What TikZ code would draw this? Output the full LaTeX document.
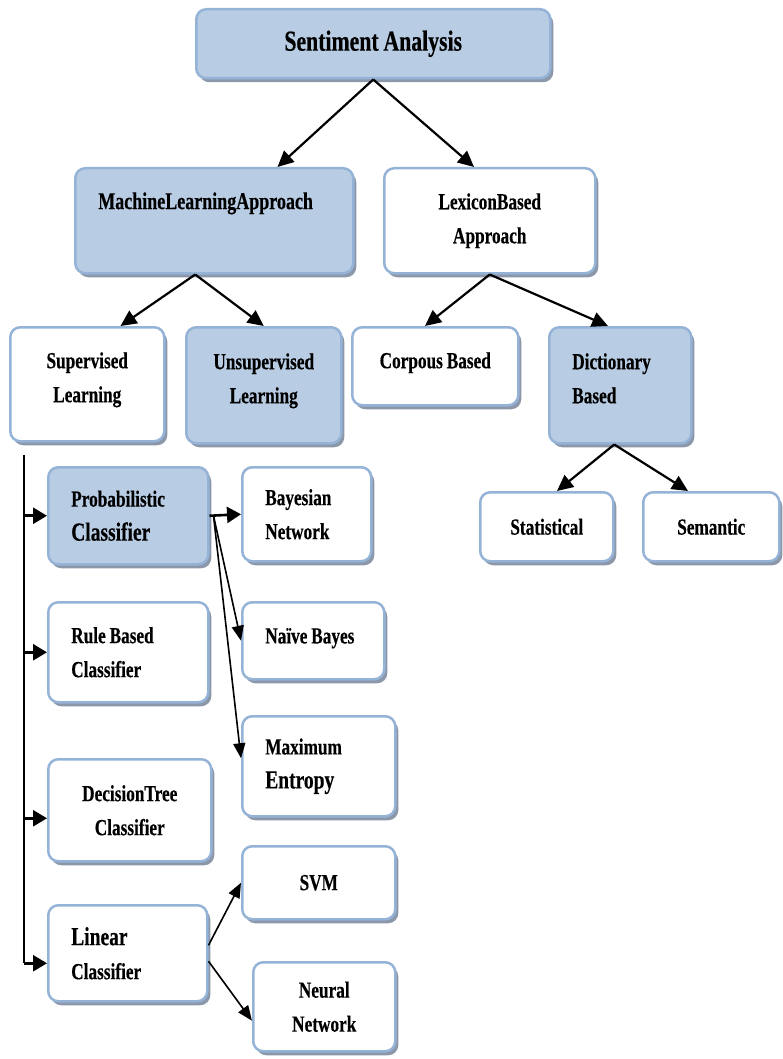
\documentclass[tikz,border=0pt]{standalone}
\usepackage{fontspec}
\setmainfont[FakeStretch=0.75,WordSpace=0.9,BoldFeatures={FakeBold=0.4}]{Liberation Serif}
\usepackage{tikz}
\usepackage{xcolor}
\usetikzlibrary{arrows.meta,shadows}

\definecolor{boxblue}{RGB}{184,204,228}
\definecolor{boxline}{RGB}{149,179,215}
\definecolor{shade}{RGB}{140,152,170}

\tikzset{
  box/.style={draw=boxline, line width=2.5pt, rounded corners=10pt, anchor=north west,
    inner xsep=23pt, inner ysep=0pt, font=\fontsize{23}{34}\selectfont\bfseries,
    drop shadow={shadow xshift=3pt, shadow yshift=-4pt, fill=shade, opacity=1}},
  bluebox/.style={box, fill=boxblue},
  whitebox/.style={box, fill=white},
  tree/.style={line width=2.2pt, -{Triangle[length=16pt,width=15pt]}},
  side/.style={line width=2.6pt, -{Triangle[length=14pt,width=16pt]}},
  fan/.style={line width=1.6pt, -{Triangle[length=15pt,width=12pt]}},
}

\begin{document}
\begin{tikzpicture}[x=1pt,y=-1pt]
\useasboundingbox (0,0) rectangle (783,1059);
% top levels
\node[bluebox, minimum width=354pt, minimum height=69pt, align=center, font=\fontsize{29}{34}\selectfont\bfseries] (sa) at (195,8) {Sentiment Analysis};
\node[bluebox, minimum width=278pt, minimum height=105pt, align=flush left, text width=232pt, text depth=40pt, font=\fontsize{24}{34}\selectfont\bfseries] (mla) at (74,167) {MachineLearningApproach};
\node[whitebox, minimum width=211pt, minimum height=105pt, align=center] (lex) at (383,167) {LexiconBased\\Approach};
\node[whitebox, minimum width=154pt, minimum height=114pt, align=center, text depth=14pt] (sup) at (9,326) {Supervised\\Learning};
\node[bluebox, minimum width=155pt, minimum height=116pt, align=center, text depth=14pt] (unsup) at (185,326) {Unsupervised\\Learning};
\node[whitebox, minimum width=166pt, minimum height=78pt, align=center, text depth=12pt] (corp) at (351,326) {Corpous Based};
\node[bluebox, minimum width=142pt, minimum height=116pt, align=flush left, text width=96pt, text depth=48pt] (dict) at (548,326) {Dictionary\\Based};
\node[whitebox, minimum width=133pt, minimum height=69pt, align=center] (stat) at (479,491) {Statistical};
\node[whitebox, minimum width=136pt, minimum height=69pt, align=center] (sem) at (642,491) {Semantic};
% supervised branch
\node[bluebox, minimum width=160pt, minimum height=97pt, align=flush left, text width=114pt] (prob) at (47,466) {Probabilistic\\{\fontsize{26}{34}\selectfont Classifier}};
\node[whitebox, minimum width=129pt, minimum height=94pt, align=flush left, text width=83pt] (bay) at (241,466) {Bayesian\\Network};
\node[whitebox, minimum width=160pt, minimum height=100pt, align=flush left, text width=114pt] (rule) at (47,601) {Rule Based\\Classifier};
\node[whitebox, minimum width=142pt, minimum height=77pt, align=flush left, text width=96pt, text depth=10pt] (nb) at (241,601) {Naïve Bayes};
\node[whitebox, minimum width=153pt, minimum height=100pt, align=flush left, text width=107pt] (me) at (241,715) {Maximum\\{\fontsize{26}{34}\selectfont Entropy}};
\node[whitebox, minimum width=163pt, minimum height=102pt, align=center] (dt) at (47,758) {DecisionTree\\Classifier};
\node[whitebox, minimum width=153pt, minimum height=73pt, align=center] (svm) at (241,845) {SVM};
\node[whitebox, minimum width=159pt, minimum height=96pt, align=flush left, text width=113pt] (lin) at (47,904) {{\fontsize{26}{34}\selectfont Linear}\\Classifier};
\node[whitebox, minimum width=142pt, minimum height=89pt, align=center] (nn) at (252,961) {Neural\\Network};

% tree arrows
\draw[tree] (sa.south) -- ([xshift=-77pt]mla.north east);
\draw[tree] (sa.south) -- ([xshift=91pt]lex.north west);
\coordinate (mlafork) at ([xshift=-19pt]mla.south);
\draw[tree] (mlafork) -- ([xshift=-45pt]sup.north east);
\draw[tree] (mlafork) -- (unsup.north);
\draw[tree] (lex.south) -- ([xshift=74pt]corp.north west);
\draw[tree] (lex.south) -- ([xshift=60pt]dict.north west);
\coordinate (dictfork) at ([xshift=-6pt]dict.south);
\draw[tree] (dictfork) -- ([xshift=78pt]stat.north west);
\draw[tree] (dictfork) -- ([xshift=46pt]sem.north west);

% supervised spine
\coordinate (spine) at ([xshift=15pt,yshift=-12pt]sup.south west);
\coordinate (dtin) at ([yshift=-8pt]dt.west);
\coordinate (linin) at ([yshift=-10pt]lin.west);
\draw[line width=1.5pt] (spine) -- (linin -| spine);
\draw[side] (prob.west -| spine) -- (prob.west);
\draw[side] (rule.west -| spine) -- (rule.west);
\draw[side] (dtin -| spine) -- (dtin);
\draw[side] (linin -| spine) -- (linin);

% classifier fans
\coordinate (probout) at ([xshift=4pt]prob.east);
\draw[side] (prob.east) -- (bay.west);
\draw[fan] (probout) -- (nb.west);
\draw[fan] (probout) -- ([yshift=8pt]me.west);
\draw[fan] ([yshift=8pt]lin.east) -- (svm.west);
\draw[fan] ([yshift=-8pt]lin.east) -- ([yshift=-14pt]nn.west);
\end{tikzpicture}
\end{document}
